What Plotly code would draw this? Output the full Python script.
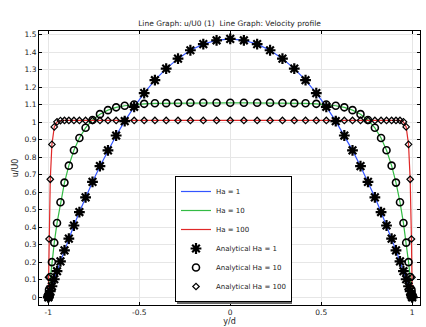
import plotly.graph_objects as go

# y/d sample positions (shared by all series)
y_d = [-1.0, -0.9988, -0.996, -0.989, -0.980, -0.967, -0.952, -0.933, -0.911, -0.887,
       -0.859, -0.829, -0.795, -0.757, -0.716, -0.672, -0.627, -0.580, -0.528, -0.473,
       -0.414, -0.352, -0.287, -0.219, -0.148, -0.075, 0.0,
       0.075, 0.148, 0.219, 0.287, 0.352, 0.414, 0.473, 0.528, 0.580, 0.627,
       0.672, 0.716, 0.757, 0.795, 0.829, 0.859, 0.887, 0.911, 0.933, 0.952,
       0.967, 0.980, 0.989, 0.996, 0.9988, 1.0]

u_ha1 = [0.0, 0.004, 0.013, 0.035, 0.063, 0.103, 0.149, 0.205, 0.268, 0.335,
         0.410, 0.487, 0.571, 0.659, 0.749, 0.839, 0.924, 1.006, 1.088, 1.166,
         1.240, 1.306, 1.363, 1.411, 1.446, 1.468, 1.476,
         1.468, 1.446, 1.411, 1.363, 1.306, 1.240, 1.166, 1.088, 1.006, 0.924,
         0.839, 0.749, 0.659, 0.571, 0.487, 0.410, 0.335, 0.268, 0.205, 0.149,
         0.103, 0.063, 0.035, 0.013, 0.004, 0.0]

u_ha10 = [0.0, 0.013, 0.044, 0.116, 0.201, 0.312, 0.424, 0.543, 0.655, 0.752,
          0.840, 0.910, 0.968, 1.013, 1.046, 1.069, 1.085, 1.094, 1.101, 1.105,
          1.108, 1.109, 1.110, 1.111, 1.111, 1.111, 1.111,
          1.111, 1.111, 1.111, 1.110, 1.109, 1.108, 1.105, 1.101, 1.094, 1.085,
          1.069, 1.046, 1.013, 0.968, 0.910, 0.840, 0.752, 0.655, 0.543, 0.424,
          0.312, 0.201, 0.116, 0.044, 0.013, 0.0]

u_ha100 = [0.0, 0.114, 0.333, 0.674, 0.873, 0.973, 1.002, 1.009, 1.010, 1.010,
           1.010, 1.010, 1.010, 1.010, 1.010, 1.010, 1.010, 1.010, 1.010, 1.010,
           1.010, 1.010, 1.010, 1.010, 1.010, 1.010, 1.010,
           1.010, 1.010, 1.010, 1.010, 1.010, 1.010, 1.010, 1.010, 1.010, 1.010,
           1.010, 1.010, 1.010, 1.010, 1.010, 1.010, 1.010, 1.010, 1.010, 1.002,
           0.973, 0.873, 0.674, 0.333, 0.114, 0.0]

x_tickvals = [-1, -0.5, 0, 0.5, 1]
x_ticktext = ["-1", "-0.5", "0", "0.5", "1"]
y_tickvals = [0, 0.1, 0.2, 0.3, 0.4, 0.5, 0.6, 0.7, 0.8, 0.9, 1.0, 1.1, 1.2, 1.3, 1.4, 1.5]
y_ticktext = ["0", "0.1", "0.2", "0.3", "0.4", "0.5", "0.6", "0.7", "0.8", "0.9",
              "1", "1.1", "1.2", "1.3", "1.4", "1.5"]

line_names = ["Ha = 1", "Ha = 10", "Ha = 100"]
marker_names = ["Analytical Ha = 1", "Analytical Ha = 10", "Analytical Ha = 100"]
series = [u_ha1, u_ha10, u_ha100]
line_colors = ["#3355ff", "#33bb44", "#e02828"]
marker_symbols = ["asterisk-open", "circle-open", "diamond-open"]
marker_sizes = [9, 7, 5]
marker_widths = [2.2, 1.6, 1.2]

FONT = "DejaVu Sans"

fig = go.Figure()
for name, u, c in zip(line_names, series, line_colors):
    fig.add_trace(go.Scatter(x=y_d, y=u, mode="lines", name=name,
                             line=dict(color=c, width=1.2)))
for name, u, s, sz, w in zip(marker_names, series, marker_symbols, marker_sizes, marker_widths):
    fig.add_trace(go.Scatter(x=y_d, y=u, mode="markers", name=name,
                             marker=dict(symbol=s, size=sz, color="black",
                                         line=dict(color="black", width=w))))

axis_common = dict(showline=True, linecolor="black", linewidth=1, mirror="ticks",
                   ticks="inside", ticklen=3, tickcolor="black",
                   showgrid=True, gridcolor="#e6e6e6", gridwidth=1,
                   zeroline=False, tickfont=dict(family=FONT, size=7.5, color="#222"))

# plot-area pixel geometry, used to place the legend's drop shadow (decoration only)
PL, PR, PT, PB = 39, 420, 31, 305
LEG_L, LEG_R, LEG_T, LEG_B = 175, 290, 177, 302
SH = 2


def px_to_paper_x(px):
    return (px - PL) / (PR - PL)


def px_to_paper_y(py):
    return (PB - py) / (PB - PT)


fig.add_shape(type="rect", xref="paper", yref="paper", layer="above",
              x0=px_to_paper_x(LEG_L + SH), x1=px_to_paper_x(LEG_R + SH),
              y0=px_to_paper_y(LEG_B + SH), y1=px_to_paper_y(LEG_T + SH),
              fillcolor="#666", line=dict(width=0))

fig.update_layout(
    width=426, height=327,
    margin=dict(l=PL, r=426 - PR, t=PT, b=327 - PB, autoexpand=False),
    paper_bgcolor="white", plot_bgcolor="white",
    font=dict(family=FONT, size=8, color="#222"),
    title=dict(text="Line Graph: u/U0 (1)\u00a0 Line Graph: Velocity profile",
               x=0.5, xref="paper", xanchor="center", y=1 - 23 / 327, yanchor="middle",
               font=dict(family=FONT, size=7.5, color="#222")),
    xaxis=dict(range=[-1.051, 1.043], tickvals=x_tickvals, ticktext=x_ticktext,
               title=dict(text="y/d", standoff=0, font=dict(family=FONT, size=8)),
               **axis_common),
    yaxis=dict(range=[-0.044, 1.521], tickvals=y_tickvals, ticktext=y_ticktext,
               title=dict(text="u/U0", standoff=4, font=dict(family=FONT, size=8)),
               **axis_common),
    showlegend=True,
    legend=dict(x=px_to_paper_x(LEG_L), y=px_to_paper_y(LEG_B), xanchor="left", yanchor="bottom",
                bgcolor="white", bordercolor="black", borderwidth=1,
                font=dict(family=FONT, size=7, color="#222"),
                itemwidth=30, tracegroupgap=0),
)

fig.write_html("out.html")
